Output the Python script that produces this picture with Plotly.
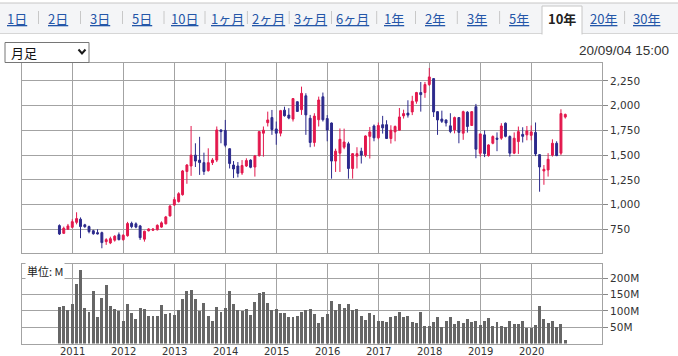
import pandas as pd
import plotly.graph_objects as go

W, H = 678, 356

# ---------------- data ----------------
months = pd.date_range("2010-10-01", periods=120, freq="MS")

open_ = [787, 709, 750, 770, 820, 852, 795, 777, 735, 716, 716, 625, 612, 640, 695,
         645, 685, 810, 805, 784, 650, 735, 740, 745, 772, 805, 885,
         995, 1030, 1100, 1335, 1390, 1500, 1450, 1424, 1343, 1424, 1450, 1755,
         1750, 1565, 1400, 1390, 1320, 1390, 1450, 1380, 1495, 1722, 1828, 1880,
         1765, 1722, 1955, 1905, 1865, 2040, 1960, 2100, 1873, 1628, 1858, 2090,
         1870, 1825, 1440, 1520, 1580, 1615, 1365, 1490, 1540, 1500, 1690, 1795,
         1675, 1808, 1808, 1668, 1735, 1752, 1897, 1925, 1937, 2045, 2133, 2133,
         2214, 2274, 1940, 1865, 1856, 1796, 1755, 1880, 1722, 1935, 1800, 1990,
         1519, 1705, 1495, 1620, 1672, 1672, 1823, 1688, 1520, 1637, 1710, 1705,
         1700, 1730, 1505, 1340, 1350, 1500, 1620, 1520, 1885]
high = [800, 777, 804, 851, 922, 870, 805, 787, 745, 750, 726, 660, 675, 690, 718,
        700, 825, 827, 820, 794, 736, 760, 760, 800, 830, 885, 995,
        1075, 1125, 1350, 1410, 1795, 1620, 1685, 1525, 1569, 1470, 1790, 1760,
        1856, 1570, 1440, 1430, 1450, 1468, 1458, 1502, 1740, 1790, 1940, 1957,
        1840, 1958, 1990, 1975, 2075, 2045, 2193, 2126, 1907, 1924, 2092, 2133,
        1905, 1830, 1565, 1770, 1768, 1635, 1520, 1580, 1575, 1700, 1785, 1810,
        1830, 1897, 1853, 1802, 1800, 1977, 1960, 2055, 2100, 2140, 2240, 2240,
        2382, 2280, 1945, 1950, 1860, 1924, 1890, 1885, 1950, 1945, 1945, 2018,
        1715, 1750, 1610, 1700, 1730, 1823, 1830, 1700, 1730, 1789, 1782, 1795,
        1800, 1830, 1510, 1400, 1520, 1660, 1640, 1964, 1920]
low = [692, 703, 743, 760, 800, 660, 765, 709, 695, 698, 558, 592, 600, 625, 638,
       635, 675, 760, 760, 642, 625, 728, 732, 738, 765, 800, 880,
       985, 1020, 1090, 1210, 1290, 1380, 1300, 1300, 1333, 1400, 1430, 1620,
       1580, 1365, 1268, 1275, 1300, 1380, 1367, 1283, 1485, 1485, 1790, 1705,
       1605, 1690, 1890, 1863, 1840, 1938, 1907, 1705, 1580, 1586, 1790, 1840,
       1640, 1262, 1330, 1330, 1560, 1262, 1262, 1365, 1415, 1480, 1465, 1640,
       1660, 1718, 1665, 1617, 1640, 1750, 1870, 1880, 1905, 2020, 1940, 2080,
       2200, 1886, 1705, 1825, 1790, 1722, 1720, 1620, 1655, 1728, 1795, 1469,
       1485, 1480, 1485, 1610, 1540, 1655, 1680, 1485, 1510, 1512, 1628, 1650,
       1650, 1490, 1130, 1200, 1283, 1485, 1490, 1500, 1870]
close = [703, 760, 784, 827, 858, 777, 776, 726, 705, 703, 615, 645, 655, 680, 645,
         690, 808, 777, 772, 665, 730, 753, 752, 790, 815, 875, 985,
         1050, 1110, 1340, 1400, 1500, 1440, 1425, 1335, 1424, 1451, 1755, 1738,
         1600, 1415, 1360, 1316, 1395, 1445, 1377, 1492, 1738, 1752, 1856, 1758,
         1722, 1950, 1898, 1875, 2072, 1942, 2125, 1907, 1628, 1895, 2058, 1858,
         1755, 1440, 1540, 1660, 1633, 1365, 1515, 1515, 1500, 1694, 1735, 1675,
         1800, 1776, 1668, 1752, 1790, 1886, 1920, 1905, 2045, 2133, 2112, 2214,
         2291, 1937, 1856, 1842, 1825, 1740, 1880, 1730, 1940, 1790, 1940, 1560,
         1715, 1515, 1603, 1688, 1660, 1795, 1690, 1520, 1671, 1738, 1690, 1745,
         1735, 1512, 1380, 1357, 1458, 1620, 1495, 1920, 1912]
volume_m = [111, 115, 103, 122, 183, 226, 110, 98, 161, 82, 141, 180, 115, 106, 100,
            69, 122, 94, 76, 109, 106, 83, 85, 83, 118, 92, 94,
            86, 103, 137, 161, 164, 137, 100, 124, 85, 69, 112, 98,
            110, 161, 122, 103, 100, 106, 86, 128, 154, 158, 125, 103,
            106, 94, 94, 80, 82, 85, 96, 103, 106, 91, 63, 82,
            91, 131, 103, 122, 108, 122, 103, 106, 83, 72, 94, 88,
            69, 69, 66, 80, 83, 97, 80, 83, 66, 63, 97, 54,
            54, 66, 82, 51, 69, 82, 60, 69, 63, 75, 66, 69,
            57, 69, 79, 54, 66, 54, 51, 69, 60, 60, 69, 49,
            49, 57, 115, 75, 63, 69, 51, 60, 11]

year_ticks = pd.date_range("2011-01-01", periods=10, freq="YS")
year_labels = [str(d.year) for d in year_ticks]
price_ticks = [750, 1000, 1250, 1500, 1750, 2000, 2250]
vol_ticks = [50, 100, 150, 200]
vol_labels = ["50M", "100M", "150M", "200M"]
tabs = ["1日", "2日", "3日", "5日", "10日", "1ヶ月", "2ヶ月", "3ヶ月", "6ヶ月",
        "1年", "2年", "3年", "5年", "10年", "20年", "30年"]
selected_tab = "10年"
timestamp = "20/09/04 15:00"
period_label = "月足"
unit_label = "単位: M"

# ---------------- style ----------------
RED = "#e3184d"
BLUE = "#2c2a8c"
GRID = "#a3a3a3"
VOLC = "#666666"
LINK = "#2456a8"
TICKFONT = dict(family="DejaVu Sans", size=10.5, color="#333333")
JP = "Noto Sans CJK JP"


def px(x):
    return x / W


def py(y):
    return 1 - y / H


x_range = ["2010-01-06", "2021-05-22"]
bar_width_ms = 21 * 24 * 3600 * 1000

fig = go.Figure()
fig.add_trace(go.Candlestick(
    x=months, open=open_, high=high, low=low, close=close,
    increasing=dict(line=dict(color=RED, width=1), fillcolor=RED),
    decreasing=dict(line=dict(color=BLUE, width=1), fillcolor=BLUE),
    whiskerwidth=0, xaxis="x", yaxis="y", showlegend=False, hoverinfo="skip"))
fig.add_trace(go.Bar(
    x=months, y=volume_m, width=bar_width_ms, marker=dict(color=VOLC, line=dict(width=0)),
    xaxis="x2", yaxis="y2", showlegend=False, hoverinfo="skip"))

axis_common = dict(showgrid=True, gridcolor=GRID, gridwidth=1, showline=True,
                   linecolor=GRID, linewidth=1, mirror=True, zeroline=False)

shapes = []
annotations = []

# tab bar
shapes.append(dict(type="rect", xref="paper", yref="paper", x0=0, x1=1, y0=py(33), y1=py(3),
                   fillcolor="#f4f5f7", line=dict(width=0), layer="below"))
shapes.append(dict(type="line", xref="paper", yref="paper", x0=0, x1=1, y0=py(3), y1=py(3),
                   line=dict(color="#c6c6c6", width=1)))
shapes.append(dict(type="line", xref="paper", yref="paper", x0=0, x1=1, y0=py(33.5), y1=py(33.5),
                   line=dict(color="#d6d6d6", width=1)))
# selected tab
sx0, sx1, sy0, sy1 = 542, 582, 6, 34.5
shapes.append(dict(type="rect", xref="paper", yref="paper", x0=px(sx0), x1=px(sx1),
                   y0=py(sy1), y1=py(sy0), fillcolor="white", line=dict(width=0)))
shapes.append(dict(type="path", xref="paper", yref="paper",
                   path=f"M {px(sx0)},{py(sy1)} L {px(sx0)},{py(sy0)} L {px(sx1)},{py(sy0)} L {px(sx1)},{py(sy1)}",
                   line=dict(color="#c6c6c6", width=1)))

tab_centers = [16.7, 58.2, 99.8, 141.8, 184, 227.6, 268, 310.6, 352,
               393.5, 435.1, 477, 518.7, 561.5, 603, 646]
separators = [38.5, 80.5, 122.5, 164, 205, 247.4, 289.2, 331.5, 376.7, 415.5, 457.3, 499.6, 624.6]
for sx in separators:
    shapes.append(dict(type="line", xref="paper", yref="paper", x0=px(sx), x1=px(sx),
                       y0=py(24), y1=py(11), line=dict(color="#c8c8c8", width=1)))
for t, cx in zip(tabs, tab_centers):
    if t == selected_tab:
        txt, col = f"<b>{t}</b>", "#222222"
    else:
        txt, col = f"<u>{t}</u>", LINK
    annotations.append(dict(text=txt, x=px(cx), y=py(18), xref="paper", yref="paper",
                            xanchor="center", yanchor="middle", showarrow=False,
                            font=dict(family=JP, size=13, color=col)))

# dropdown
shapes.append(dict(type="rect", xref="paper", yref="paper", x0=px(5), x1=px(89),
                   y0=py(62.5), y1=py(42.5), fillcolor="white",
                   line=dict(color="#767676", width=1)))
shapes.append(dict(type="path", xref="paper", yref="paper",
                   path=f"M {px(78.5)},{py(49.5)} L {px(82)},{py(53.5)} L {px(85.5)},{py(49.5)}",
                   line=dict(color="#1a1a1a", width=2)))
annotations.append(dict(text=period_label, x=px(9), y=py(52.5), xref="paper", yref="paper",
                        xanchor="left", yanchor="middle", showarrow=False,
                        font=dict(family=JP, size=13, color="#111111")))
annotations.append(dict(text=timestamp, x=px(671), y=py(50), xref="paper", yref="paper",
                        xanchor="right", yanchor="middle", showarrow=False,
                        font=dict(family="Liberation Sans", size=13.5, color="#333333")))
annotations.append(dict(text=unit_label, x=px(25), y=py(271), xref="paper", yref="paper",
                        xanchor="left", yanchor="middle", showarrow=False, bgcolor="white",
                        borderpad=1, font=dict(family=JP, size=11, color="#222222")))
# year labels under the volume panel, positioned through the x2 date scale
for d, lab in zip(year_ticks, year_labels):
    annotations.append(dict(text=lab, x=d, y=py(351), xref="x2", yref="paper",
                            xanchor="center", yanchor="middle", showarrow=False,
                            font=dict(family="DejaVu Sans", size=10, color="#333333")))

fig.update_layout(
    width=W, height=H, margin=dict(l=0, r=0, t=0, b=0),
    paper_bgcolor="white", plot_bgcolor="white", showlegend=False, bargap=0,
    xaxis=dict(domain=[px(22), px(602)], range=x_range, type="date", anchor="y",
               tickvals=year_ticks, showticklabels=False, ticks="",
               rangeslider=dict(visible=False), **axis_common),
    yaxis=dict(domain=[py(253), py(63)], range=[510, 2432], side="right", anchor="x",
               tickvals=price_ticks, tickformat=",d", ticks="outside", ticklen=5,
               tickcolor="#888888", tickfont=TICKFONT, **axis_common),
    xaxis2=dict(domain=[px(22), px(602)], range=x_range, type="date", anchor="y2",
                tickvals=year_ticks, showticklabels=False, ticks="", **axis_common),
    yaxis2=dict(domain=[py(343.5), py(264)], range=[0, 244], side="right", anchor="x2",
                tickvals=vol_ticks, ticktext=vol_labels, ticks="outside", ticklen=5,
                tickcolor="#888888", tickfont=TICKFONT, **axis_common),
    shapes=shapes, annotations=annotations,
)

fig.write_html("out.html", config={"displayModeBar": False},
               post_script="document.body.style.margin='0';document.body.style.overflow='hidden';")
